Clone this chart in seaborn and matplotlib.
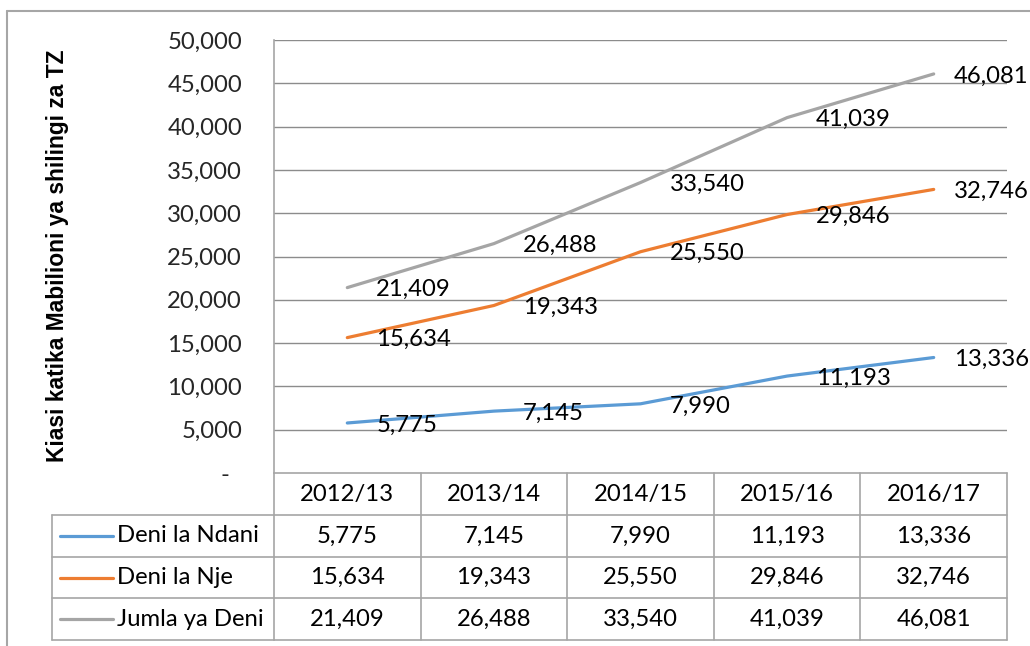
import matplotlib.pyplot as plt
import matplotlib.transforms as mtransforms
import pandas as pd
import seaborn as sns

# chart data
years = ['2012/13', '2013/14', '2014/15', '2015/16', '2016/17']
series_names = ['Deni la Ndani', 'Deni la Nje', 'Jumla ya Deni']
deni_ndani = [5775, 7145, 7990, 11193, 13336]
deni_nje = [15634, 19343, 25550, 29846, 32746]
jumla_deni = [21409, 26488, 33540, 41039, 46081]
y_ticks = [0, 5000, 10000, 15000, 20000, 25000, 30000, 35000, 40000, 45000, 50000]
y_label = 'Kiasi katika Mabilioni ya shilingi za TZ'

colors = ['#5B9BD5', '#ED7D31', '#A5A5A5']
grid_col = '#8C8C8C'
table_col = '#A6A6A6'
FS = 17.2

values = [deni_ndani, deni_nje, jumla_deni]
df = pd.DataFrame({
    'year': years * 3,
    'value': deni_ndani + deni_nje + jumla_deni,
    'series': [s for s in series_names for _ in years],
})

sns.set_theme(style='white')
plt.rcParams['font.family'] = ['Lato', 'DejaVu Sans']

W, H = 1030, 646
fig = plt.figure(figsize=(W / 100, H / 100), dpi=100)

def fy(py):
    """pixel row (from top) -> figure fraction"""
    return 1 - py / H

ax = fig.add_axes([274 / W, fy(473), (1007 - 274) / W, (473 - 40) / H])

sns.lineplot(data=df, x='year', y='value', hue='series', palette=colors,
             sort=False, linewidth=2.3, legend=False, ax=ax)

ax.set_xlim(-0.5, 4.5)
ax.set_ylim(0, 50000)
ax.set_yticks(y_ticks)
ax.set_yticklabels(['-  '] + [f'{v:,}' for v in y_ticks[1:]], fontsize=FS)
ax.tick_params(axis='y', length=0, pad=23)
ax.set_xticks([])
ax.set_xlabel('')
ax.set_ylabel('')
for v in y_ticks[1:]:
    ax.axhline(v, color=grid_col, lw=1, zorder=0)
for s in ['top', 'right', 'bottom']:
    ax.spines[s].set_visible(False)
ax.spines['left'].set_color(table_col)
ax.spines['left'].set_linewidth(1.2)

# data labels
for vals in values:
    for i, v in enumerate(vals):
        off = 20 if i == len(vals) - 1 else 29
        ax.annotate(f'{v:,}', (i, v), xytext=(off * 0.72, -1.5), textcoords='offset points',
                    ha='left', va='center', fontsize=FS, color='#000000')

fig.text(58 / W, fy(256), y_label, rotation=90, ha='center', va='center',
         fontsize=16.4, fontweight='bold', family=['Liberation Sans', 'DejaVu Sans'],
         color='#000000')

# data table under the axis
tr = mtransforms.blended_transform_factory(ax.transData, fig.transFigure)
row_edges = [473, 515, 557, 598, 640]
kw = dict(color=table_col, lw=1.2, transform=tr, clip_on=False)
# header row
for py in row_edges:
    fig.add_artist(plt.Line2D([-0.5, 4.5], [fy(py), fy(py)], **kw))
for i in range(len(years) + 1):
    fig.add_artist(plt.Line2D([i - 0.5, i - 0.5], [fy(473), fy(640)], **kw))
# legend column
kwf = dict(color=table_col, lw=1.2, transform=fig.transFigure)
for py in row_edges[1:]:
    fig.add_artist(plt.Line2D([52 / W, 274 / W], [fy(py), fy(py)], **kwf))
fig.add_artist(plt.Line2D([52 / W, 52 / W], [fy(515), fy(640)], **kwf))

for i, yr in enumerate(years):
    fig.text(i, fy((473 + 515) / 2), yr, transform=tr, ha='center', va='center',
             fontsize=FS, color='#000000')
for r, (name, vals, c) in enumerate(zip(series_names, values, colors)):
    yc = fy((row_edges[r + 1] + row_edges[r + 2]) / 2)
    fig.add_artist(plt.Line2D([60 / W, 113 / W], [yc, yc], color=c, lw=2.3,
                              transform=fig.transFigure))
    fig.text(117 / W, yc, name, ha='left', va='center', fontsize=FS, color='#000000')
    for i, v in enumerate(vals):
        fig.text(i, yc, f'{v:,}', transform=tr, ha='center', va='center',
                 fontsize=FS, color='#000000')

# chart border (cropped at right and bottom)
fig.add_artist(plt.Line2D([7 / W, 7 / W], [fy(11), 0], color=table_col, lw=1.5,
                          transform=fig.transFigure))
fig.add_artist(plt.Line2D([7 / W, 1], [fy(11), fy(11)], color=table_col, lw=1.5,
                          transform=fig.transFigure))

fig.savefig('out.png', dpi=100)
